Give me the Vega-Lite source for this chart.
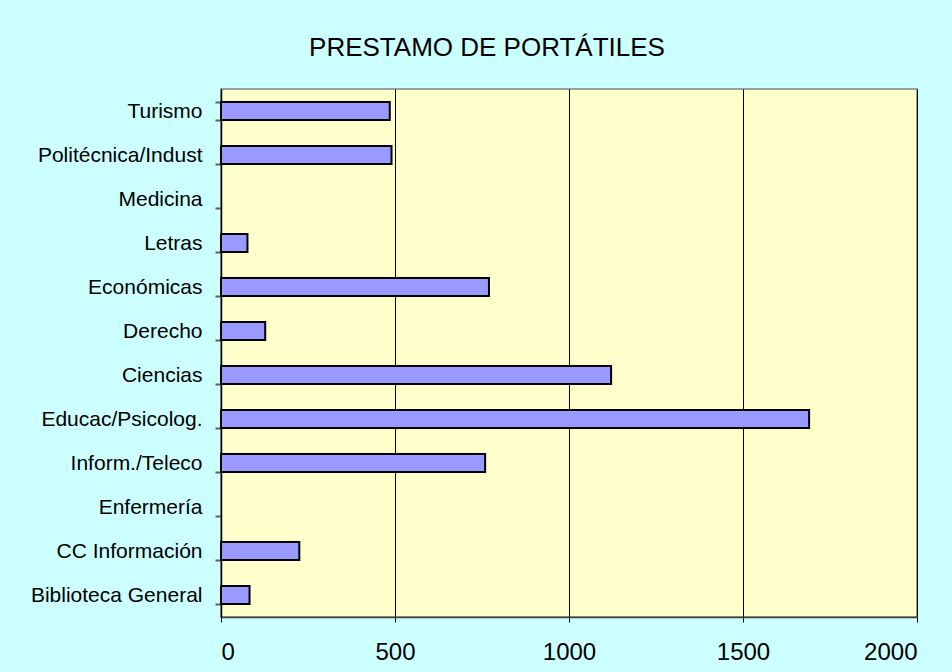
{
  "$schema": "https://vega.github.io/schema/vega-lite/v6.json",
  "width": 696,
  "height": 528,
  "autosize": {"type": "none"},
  "padding": {"left": 221, "top": 89, "right": 35, "bottom": 55},
  "background": "#CCFFFF",
  "title": {
    "text": "PRESTAMO DE PORTÁTILES",
    "font": "Liberation Sans",
    "fontSize": 26,
    "fontWeight": "normal",
    "color": "#000000",
    "anchor": "middle",
    "dx": -82,
    "baseline": "alphabetic",
    "offset": -4
  },
  "config": {
    "view": {"fill": "#FFFFCC", "stroke": "#808080", "strokeWidth": 1.5},
    "font": "Liberation Sans"
  },
  "data": {
    "values": [
      {"facultad": "Turismo", "prestamos": 485},
      {"facultad": "Politécnica/Indust", "prestamos": 490},
      {"facultad": "Medicina", "prestamos": null},
      {"facultad": "Letras", "prestamos": 76},
      {"facultad": "Económicas", "prestamos": 770},
      {"facultad": "Derecho", "prestamos": 127},
      {"facultad": "Ciencias", "prestamos": 1121},
      {"facultad": "Educac/Psicolog.", "prestamos": 1690},
      {"facultad": "Inform./Teleco", "prestamos": 759},
      {"facultad": "Enfermería", "prestamos": null},
      {"facultad": "CC Información", "prestamos": 225},
      {"facultad": "Biblioteca General", "prestamos": 82}
    ]
  },
  "mark": {"type": "bar", "fill": "#9999FF", "stroke": "#000000", "strokeWidth": 2},
  "encoding": {
    "y": {
      "field": "facultad",
      "type": "nominal",
      "title": null,
      "scale": {
        "domain": ["Turismo", "Politécnica/Indust", "Medicina", "Letras", "Económicas", "Derecho", "Ciencias", "Educac/Psicolog.", "Inform./Teleco", "Enfermería", "CC Información", "Biblioteca General"],
        "paddingInner": 0.59,
        "paddingOuter": 0.295
      },
      "axis": {
        "labelFontSize": 21,
        "labelColor": "#000000",
        "labelPadding": 13,
        "tickBand": "extent",
        "tickSize": 6,
        "tickColor": "#606060",
        "tickWidth": 2,
        "domainColor": "#000000",
        "domainWidth": 1.5,
        "grid": false,
        "labelLimit": 300
      }
    },
    "x": {
      "field": "prestamos",
      "type": "quantitative",
      "title": null,
      "scale": {"domain": [0, 2000], "nice": false},
      "axis": {
        "values": [0, 500, 1000, 1500, 2000],
        "format": "d",
        "labelFontSize": 24,
        "labelColor": "#000000",
        "labelPadding": 18,
        "tickSize": 5,
        "tickColor": "#000000",
        "domainColor": "#404040",
        "domainWidth": 1.5,
        "grid": true,
        "gridColor": "#000000",
        "gridWidth": 1,
        "gridOpacity": 1
      }
    }
  }
}
